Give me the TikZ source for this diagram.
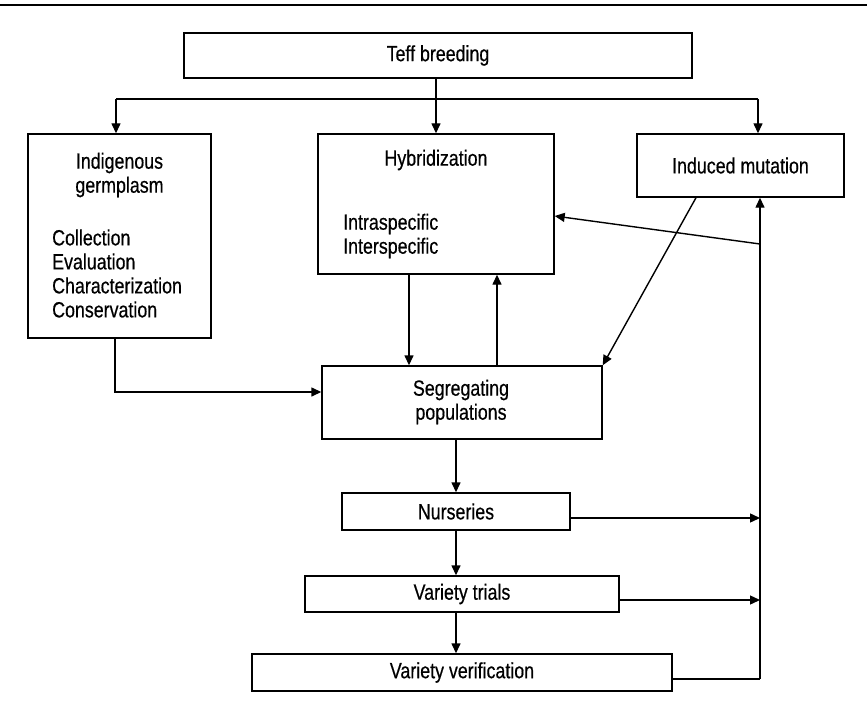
\documentclass[tikz,border=0pt]{standalone}
\usepackage{fontspec}
\setmainfont[FakeStretch=0.81,FakeBold=0.5]{Liberation Sans}
\usetikzlibrary{arrows.meta,calc}
\begin{document}
\begin{tikzpicture}[x=1pt,y=-1pt,
  box/.style={draw,line width=1.4pt,inner sep=0pt,minimum width=#1},
  txt/.style={inner sep=0pt,font=\fontsize{22}{24}\selectfont},
  arr/.style={line width=1.4pt,-{Triangle[length=10pt,width=9pt]}},
  ln/.style={line width=1.4pt}]
\useasboundingbox (0,0) rectangle (867,706);
\draw[line width=2.6pt] (0,5) -- (867,5);
% boxes
\node[box=508pt,minimum height=45pt,txt] (teff) at (438,55.5) {Teff breeding};
\node[box=183pt,minimum height=204pt] (indig) at (119.5,236) {};
\node[txt,align=center] (indigT) at (119.5,175) {Indigenous\\germplasm};
\node[txt,align=left,anchor=west] (indigL) at (52,273.5) {Collection\\Evaluation\\Characterization\\Conservation};
\node[box=236pt,minimum height=140pt] (hyb) at (436,204) {};
\node[txt] (hybT) at (436,160) {Hybridization};
\node[txt,align=left,anchor=west] (hybL) at (343,236) {Intraspecific\\Interspecific};
\node[box=207pt,minimum height=63pt,txt] (ind) at (740.5,165.5) {Induced mutation};
\node[box=280pt,minimum height=73pt] (seg) at (462,402.5) {};
\node[txt,align=center] (segT) at (461,402) {Segregating\\populations};
\node[box=228pt,minimum height=37pt,txt] (nur) at (456,511.5) {Nurseries};
\node[box=314pt,minimum height=36pt,txt] (tri) at (462,594) {Variety trials};
\node[box=420pt,minimum height=37pt,txt] (ver) at (462,672.5) {Variety verification};
% coordinates
\coordinate (bL) at (116,99);
\coordinate (bC) at (436,99);
\coordinate (bR) at (758,99);
\coordinate (ci) at (115,392);
\coordinate (xa) at (409,0);
\coordinate (xb) at (497,0);
\coordinate (xd) at (696,0);
\coordinate (xn) at (456,0);
\coordinate (vb) at (760,679);
\coordinate (n1) at (760,518);
\coordinate (t1) at (760,600);
\coordinate (h1) at (760,244);
\coordinate (hk) at (0,216);
% connectors
\draw[ln] (bC |- teff.south) -- (bC);
\draw[ln] (bL) -- (bR);
\draw[arr] (bL) -- (bL |- indig.north);
\draw[arr] (bC) -- (bC |- hyb.north);
\draw[arr] (bR) -- (bR |- ind.north);
\draw[arr] (ci |- indig.south) -- (ci) -- (ci -| seg.west);
\draw[arr] (xa |- hyb.south) -- (xa |- seg.north);
\draw[arr] (xb |- seg.north) -- (xb |- hyb.south);
\draw[arr] (xd |- ind.south) -- (seg.north east);
\draw[ln] (vb -| ver.east) -- (vb);
\draw[arr] (vb) -- (vb |- ind.south);
\draw[arr] (n1 -| nur.east) -- (n1);
\draw[arr] (t1 -| tri.east) -- (t1);
\draw[arr] (h1) -- (hyb.east |- hk);
\draw[arr] (xn |- seg.south) -- (xn |- nur.north);
\draw[arr] (xn |- nur.south) -- (xn |- tri.north);
\draw[arr] (xn |- tri.south) -- (xn |- ver.north);
\end{tikzpicture}
\end{document}
